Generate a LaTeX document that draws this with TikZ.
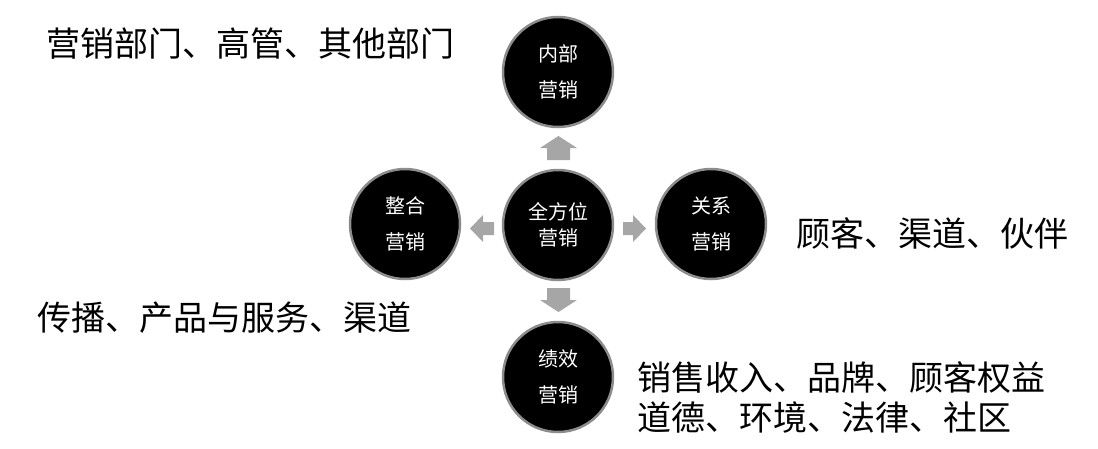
\documentclass[tikz,border=0pt]{standalone}
\usepackage{fontspec}
\setmainfont{Noto Sans CJK SC}
\begin{document}
\begin{tikzpicture}[x=1pt,y=-1pt,
  circ/.style={circle,fill=black,draw=black!45,line width=2.5pt,minimum size=110pt,inner sep=0pt,text=white,font=\fontsize{20}{36}\selectfont,align=center},
  circc/.style={circ,font=\fontsize{20}{26}\selectfont},
  lbl/.style={anchor=west,inner sep=0pt,font=\fontsize{34}{40}\selectfont,align=left},
  blk/.style={fill=black!35,draw=none}]
\useasboundingbox (0,0) rectangle (1098,448);
\node[circc] (c) at (558,225) {全方位\\营销};
\node[circ] (t) at (558,72) {内部\\营销};
\node[circ] (l) at (405,224) {整合\\营销};
\node[circ] (r) at (711,224) {关系\\营销};
\node[circ] (b) at (558,377) {绩效\\营销};
% block arrows
\fill[blk] (547,160) -- (547,148) -- (540,148) -- (558.5,136) -- (577,148) -- (570,148) -- (570,160) -- cycle;
\fill[blk] (547,288) -- (547,300) -- (540,300) -- (558.5,312) -- (577,300) -- (570,300) -- (570,288) -- cycle;
\fill[blk] (494,222) -- (483,222) -- (483,215) -- (470,228.5) -- (483,242) -- (483,235) -- (494,235) -- cycle;
\fill[blk] (623,222) -- (633,222) -- (633,215) -- (646,228.5) -- (633,242) -- (633,235) -- (623,235) -- cycle;
\node[lbl] (tl) at (46,44) {营销部门、高管、其他部门};
\node[lbl] (rl) at (796,233) {顾客、渠道、伙伴};
\node[lbl] (ll) at (37,318) {传播、产品与服务、渠道};
\node[lbl] (bl) at (637,397) {销售收入、品牌、顾客权益\\道德、环境、法律、社区};
\end{tikzpicture}
\end{document}
